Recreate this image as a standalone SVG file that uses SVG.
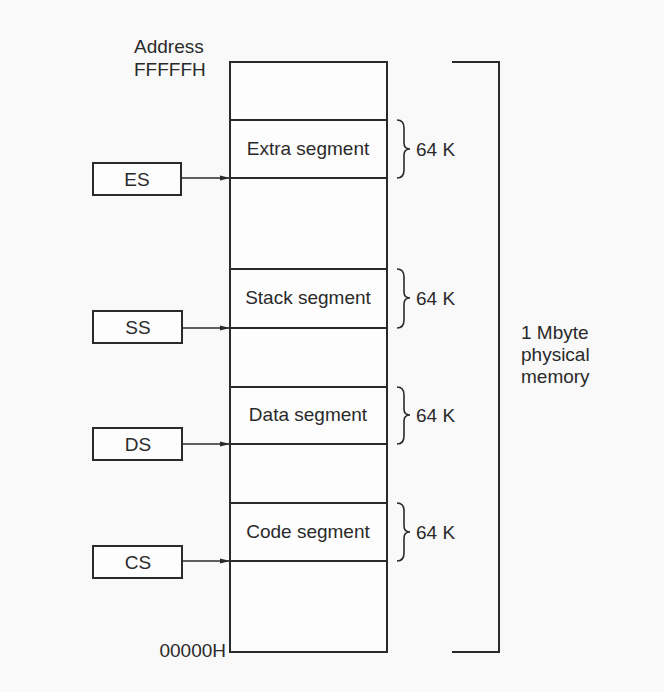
<svg xmlns="http://www.w3.org/2000/svg" width="664" height="692" viewBox="0 0 664 692">
<style>
.ln{stroke:#2a2a2a;stroke-width:2;fill:none}
.bx{stroke:#2a2a2a;stroke-width:2;fill:#fdfdfd}
.br{stroke:#2a2a2a;stroke-width:1.6;fill:none}
text{font-family:"Liberation Sans",Arial,sans-serif;font-size:19px;fill:#2a2a2a}
.c{text-anchor:middle}
</style>
<defs>
<marker id="ah" markerWidth="10" markerHeight="6" refX="10" refY="3" orient="auto" markerUnits="userSpaceOnUse">
<path d="M0,0.5 L10,3 L0,5.5 Z" fill="#2a2a2a"/>
</marker>
</defs>
<rect width="664" height="692" fill="#f9f9f9"/>
<g id="memory">
<rect class="bx" x="230" y="62" width="157" height="590"/>
<line class="ln" x1="230" y1="120" x2="387" y2="120"/>
<line class="ln" x1="230" y1="178" x2="387" y2="178"/>
<line class="ln" x1="230" y1="269" x2="387" y2="269"/>
<line class="ln" x1="230" y1="328" x2="387" y2="328"/>
<line class="ln" x1="230" y1="387" x2="387" y2="387"/>
<line class="ln" x1="230" y1="444" x2="387" y2="444"/>
<line class="ln" x1="230" y1="503" x2="387" y2="503"/>
<line class="ln" x1="230" y1="561" x2="387" y2="561"/>
<text x="134" y="53">Address</text>
<text x="134" y="76">FFFFFH</text>
<text x="226" y="657" text-anchor="end">00000H</text>
</g>
<g id="extra">
<text class="c" x="308" y="155">Extra segment</text>
<path class="br" d="M397,120 Q404,120 404,128 L404,143 Q404,149 410,149 Q404,149 404,155 L404,170 Q404,178 397,178"/>
<text x="416" y="156">64 K</text>
</g>
<g id="stack">
<text class="c" x="308" y="304">Stack segment</text>
<path class="br" d="M397,269 Q404,269 404,277 L404,292 Q404,298 410,298 Q404,298 404,304 L404,320 Q404,328 397,328"/>
<text x="416" y="305">64 K</text>
</g>
<g id="data">
<text class="c" x="308" y="421">Data segment</text>
<path class="br" d="M397,387 Q404,387 404,395 L404,409 Q404,415 410,415 Q404,415 404,421 L404,436 Q404,444 397,444"/>
<text x="416" y="422">64 K</text>
</g>
<g id="code">
<text class="c" x="308" y="538">Code segment</text>
<path class="br" d="M397,503 Q404,503 404,511 L404,526 Q404,532 410,532 Q404,532 404,538 L404,553 Q404,561 397,561"/>
<text x="416" y="539">64 K</text>
</g>
<g id="total">
<path class="ln" d="M452,62 L499,62 L499,652 L452,652"/>
<text x="521" y="339">1 Mbyte</text>
<text x="521" y="361">physical</text>
<text x="521" y="383">memory</text>
</g>
<g id="ES">
<rect class="bx" x="93" y="163" width="88" height="32"/>
<text class="c" x="137" y="186">ES</text>
</g>
<g id="SS">
<rect class="bx" x="93" y="311" width="89" height="32"/>
<text class="c" x="138" y="334">SS</text>
</g>
<g id="DS">
<rect class="bx" x="93" y="428" width="89" height="32"/>
<text class="c" x="138" y="451">DS</text>
</g>
<g id="CS">
<rect class="bx" x="93" y="546" width="89" height="32"/>
<text class="c" x="138" y="569">CS</text>
</g>
<g id="connectors">
<line class="br" x1="181" y1="178" x2="230" y2="178" marker-end="url(#ah)"/>
<line class="br" x1="182" y1="328" x2="230" y2="328" marker-end="url(#ah)"/>
<line class="br" x1="182" y1="444" x2="230" y2="444" marker-end="url(#ah)"/>
<line class="br" x1="182" y1="561" x2="230" y2="561" marker-end="url(#ah)"/>
</g>
</svg>
